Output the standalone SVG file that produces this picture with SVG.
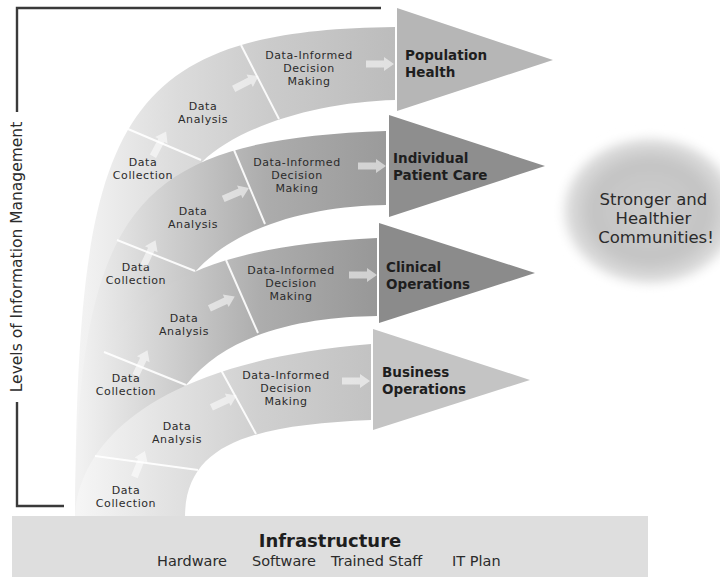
<svg xmlns="http://www.w3.org/2000/svg" width="720" height="577" viewBox="0 0 720 577">
  <style>
    .seg { font-family: "DejaVu Sans", "Liberation Sans", sans-serif; font-size: 11px; letter-spacing: 0.6px; fill: #2b2b2b; text-anchor: middle; }
    .out { font-family: "DejaVu Sans", "Liberation Sans", sans-serif; font-size: 13.5px; font-weight: bold; fill: #1e1e1e; }
    .sep { stroke: #ffffff; stroke-width: 2; stroke-opacity: 0.9; fill: none; }
    .axis { stroke: #3a3a3a; stroke-width: 2.4; fill: none; }
    .flow { fill: #ffffff; fill-opacity: 0.55; }
  </style>
  <defs>
    <linearGradient id="g1" gradientUnits="userSpaceOnUse" x1="80" y1="0" x2="395" y2="0">
      <stop offset="0" stop-color="#f3f3f3"/>
      <stop offset="0.3" stop-color="#dcdcdc"/>
      <stop offset="0.6" stop-color="#cbcbcb"/>
      <stop offset="1" stop-color="#bcbcbc"/>
    </linearGradient>
    <linearGradient id="g2" gradientUnits="userSpaceOnUse" x1="80" y1="0" x2="390" y2="0">
      <stop offset="0" stop-color="#f1f1f1"/>
      <stop offset="0.3" stop-color="#cdcdcd"/>
      <stop offset="0.6" stop-color="#acacac"/>
      <stop offset="1" stop-color="#9a9a9a"/>
    </linearGradient>
    <linearGradient id="g3" gradientUnits="userSpaceOnUse" x1="80" y1="0" x2="380" y2="0">
      <stop offset="0" stop-color="#f1f1f1"/>
      <stop offset="0.3" stop-color="#cfcfcf"/>
      <stop offset="0.6" stop-color="#adadad"/>
      <stop offset="1" stop-color="#979797"/>
    </linearGradient>
    <linearGradient id="g4" gradientUnits="userSpaceOnUse" x1="80" y1="0" x2="375" y2="0">
      <stop offset="0" stop-color="#f5f5f5"/>
      <stop offset="0.3" stop-color="#e2e2e2"/>
      <stop offset="0.6" stop-color="#d0d0d0"/>
      <stop offset="1" stop-color="#c2c2c2"/>
    </linearGradient>
    <radialGradient id="cloudFill" cx="0.5" cy="0.5" r="0.5">
      <stop offset="0" stop-color="#cdcdcd"/>
      <stop offset="0.65" stop-color="#c4c4c4"/>
      <stop offset="0.9" stop-color="#dcdcdc"/>
      <stop offset="1" stop-color="#ffffff"/>
    </radialGradient>
    <filter id="soft" x="-20%" y="-20%" width="140%" height="140%">
      <feGaussianBlur stdDeviation="5"/>
    </filter>
    <path id="flowArrow" class="flow" d="M-15,-3.5 H3 V-7 L13,0 L3,7 V3.5 H-15 Z"/>
  </defs>

  <rect x="0" y="0" width="720" height="577" fill="#ffffff"/>

  <!-- axis: levels of information management -->
  <g id="axis">
    <path class="axis" d="M381,8 H17 V112 M17,402 V506 H64"/>
    <text transform="translate(22,257) rotate(-90)" font-family="DejaVu Sans, Liberation Sans, sans-serif" font-size="15.5" fill="#2b2b2b" text-anchor="middle">Levels of Information Management</text>
  </g>

  <!-- band 1: population health -->
  <g id="band-population">
    <path fill="url(#g1)" d="M75,517 C78,130 110,30 395,27 L395,100 C320,102 240,125 202,162 C175,260 150,400 150,517 Z"/>
    <path class="sep" d="M128,129 L201,160 M241,45 L279,119"/>
    <text class="seg" x="143" y="166">Data</text>
    <text class="seg" x="143" y="179">Collection</text>
    <text class="seg" x="203" y="110">Data</text>
    <text class="seg" x="203" y="123">Analysis</text>
    <text class="seg" x="309" y="59">Data-Informed</text>
    <text class="seg" x="309" y="72">Decision</text>
    <text class="seg" x="309" y="85">Making</text>
  </g>

  <!-- band 2: individual patient care -->
  <g id="band-patient">
    <path fill="url(#g2)" d="M75,517 C78,200 140,140 386,131 L386,205 C320,206 240,222 195,272 C170,360 150,440 150,517 Z"/>
    <path class="sep" d="M117,240 L195,271 M234,150 L265,224"/>
    <text class="seg" x="136" y="271">Data</text>
    <text class="seg" x="136" y="284">Collection</text>
    <text class="seg" x="193" y="215">Data</text>
    <text class="seg" x="193" y="228">Analysis</text>
    <text class="seg" x="297" y="166">Data-Informed</text>
    <text class="seg" x="297" y="179">Decision</text>
    <text class="seg" x="297" y="192">Making</text>
  </g>

  <!-- band 3: clinical operations -->
  <g id="band-clinical">
    <path fill="url(#g3)" d="M75,517 C78,330 130,250 377,238 L377,316 C310,317 230,330 186,385 C175,440 155,480 150,517 Z"/>
    <path class="sep" d="M104,352 L186,385 M226,260 L258,333"/>
    <text class="seg" x="126" y="382">Data</text>
    <text class="seg" x="126" y="395">Collection</text>
    <text class="seg" x="184" y="322">Data</text>
    <text class="seg" x="184" y="335">Analysis</text>
    <text class="seg" x="291" y="274">Data-Informed</text>
    <text class="seg" x="291" y="287">Decision</text>
    <text class="seg" x="291" y="300">Making</text>
  </g>

  <!-- band 4: business operations -->
  <g id="band-business">
    <path fill="url(#g4)" d="M75,517 C76,470 115,365 371,344 L371,420 C260,425 185,440 185,517 Z"/>
    <path class="sep" d="M95,456 L198,470 M221,370 L256,434"/>
    <text class="seg" x="126" y="494">Data</text>
    <text class="seg" x="126" y="507">Collection</text>
    <text class="seg" x="177" y="430">Data</text>
    <text class="seg" x="177" y="443">Analysis</text>
    <text class="seg" x="286" y="379">Data-Informed</text>
    <text class="seg" x="286" y="392">Decision</text>
    <text class="seg" x="286" y="405">Making</text>
  </g>

  <!-- outcome arrowheads -->
  <g id="out-population">
    <polygon points="397,8 397,111 553,60" fill="#b6b6b6"/>
    <text class="out" x="405" y="60">Population</text>
    <text class="out" x="405" y="77">Health</text>
  </g>
  <g id="out-patient">
    <polygon points="389,115 389,217 545,166" fill="#8e8e8e"/>
    <text class="out" x="393" y="163">Individual</text>
    <text class="out" x="393" y="180">Patient Care</text>
  </g>
  <g id="out-clinical">
    <polygon points="379,223 379,323 535,273" fill="#8b8b8b"/>
    <text class="out" x="386" y="272">Clinical</text>
    <text class="out" x="386" y="289">Operations</text>
  </g>
  <g id="out-business">
    <polygon points="373,329 373,430 530,380" fill="#c4c4c4"/>
    <text class="out" x="382" y="377">Business</text>
    <text class="out" x="382" y="394">Operations</text>
  </g>

  <!-- flow arrows between stages -->
  <g id="connectors">
    <use href="#flowArrow" transform="translate(160,143) rotate(-62)"/>
    <use href="#flowArrow" transform="translate(247,82) rotate(-27)"/>
    <use href="#flowArrow" transform="translate(381,64)"/>
    <use href="#flowArrow" transform="translate(150,252) rotate(-65)"/>
    <use href="#flowArrow" transform="translate(237,193) rotate(-23)"/>
    <use href="#flowArrow" transform="translate(373,166)"/>
    <use href="#flowArrow" transform="translate(142,362) rotate(-65)"/>
    <use href="#flowArrow" transform="translate(223,302) rotate(-25)"/>
    <use href="#flowArrow" transform="translate(364,275)"/>
    <use href="#flowArrow" transform="translate(140,463) rotate(-68)"/>
    <use href="#flowArrow" transform="translate(225,401) rotate(-25)"/>
    <use href="#flowArrow" transform="translate(357,381)"/>
  </g>

  <!-- goal cloud -->
  <g id="goal">
    <ellipse cx="650" cy="211" rx="90" ry="76" fill="url(#cloudFill)" filter="url(#soft)"/>
    <text font-family="DejaVu Sans, Liberation Sans, sans-serif" font-size="16.5" fill="#2b2b2b" text-anchor="middle">
      <tspan x="656" y="205">Stronger and</tspan>
      <tspan x="656" y="224">Healthier</tspan>
      <tspan x="656" y="243">Communities!</tspan>
    </text>
  </g>

  <!-- infrastructure base -->
  <g id="infrastructure">
    <rect x="12" y="516" width="636" height="61" fill="#dedede"/>
    <text x="330" y="547" font-family="DejaVu Sans, Liberation Sans, sans-serif" font-size="18" font-weight="bold" fill="#1e1e1e" text-anchor="middle">Infrastructure</text>
    <g font-family="DejaVu Sans, Liberation Sans, sans-serif" font-size="14.5" fill="#2b2b2b">
      <text x="157" y="566">Hardware</text>
      <text x="252" y="566">Software</text>
      <text x="331" y="566">Trained Staff</text>
      <text x="452" y="566">IT Plan</text>
    </g>
  </g>
</svg>
